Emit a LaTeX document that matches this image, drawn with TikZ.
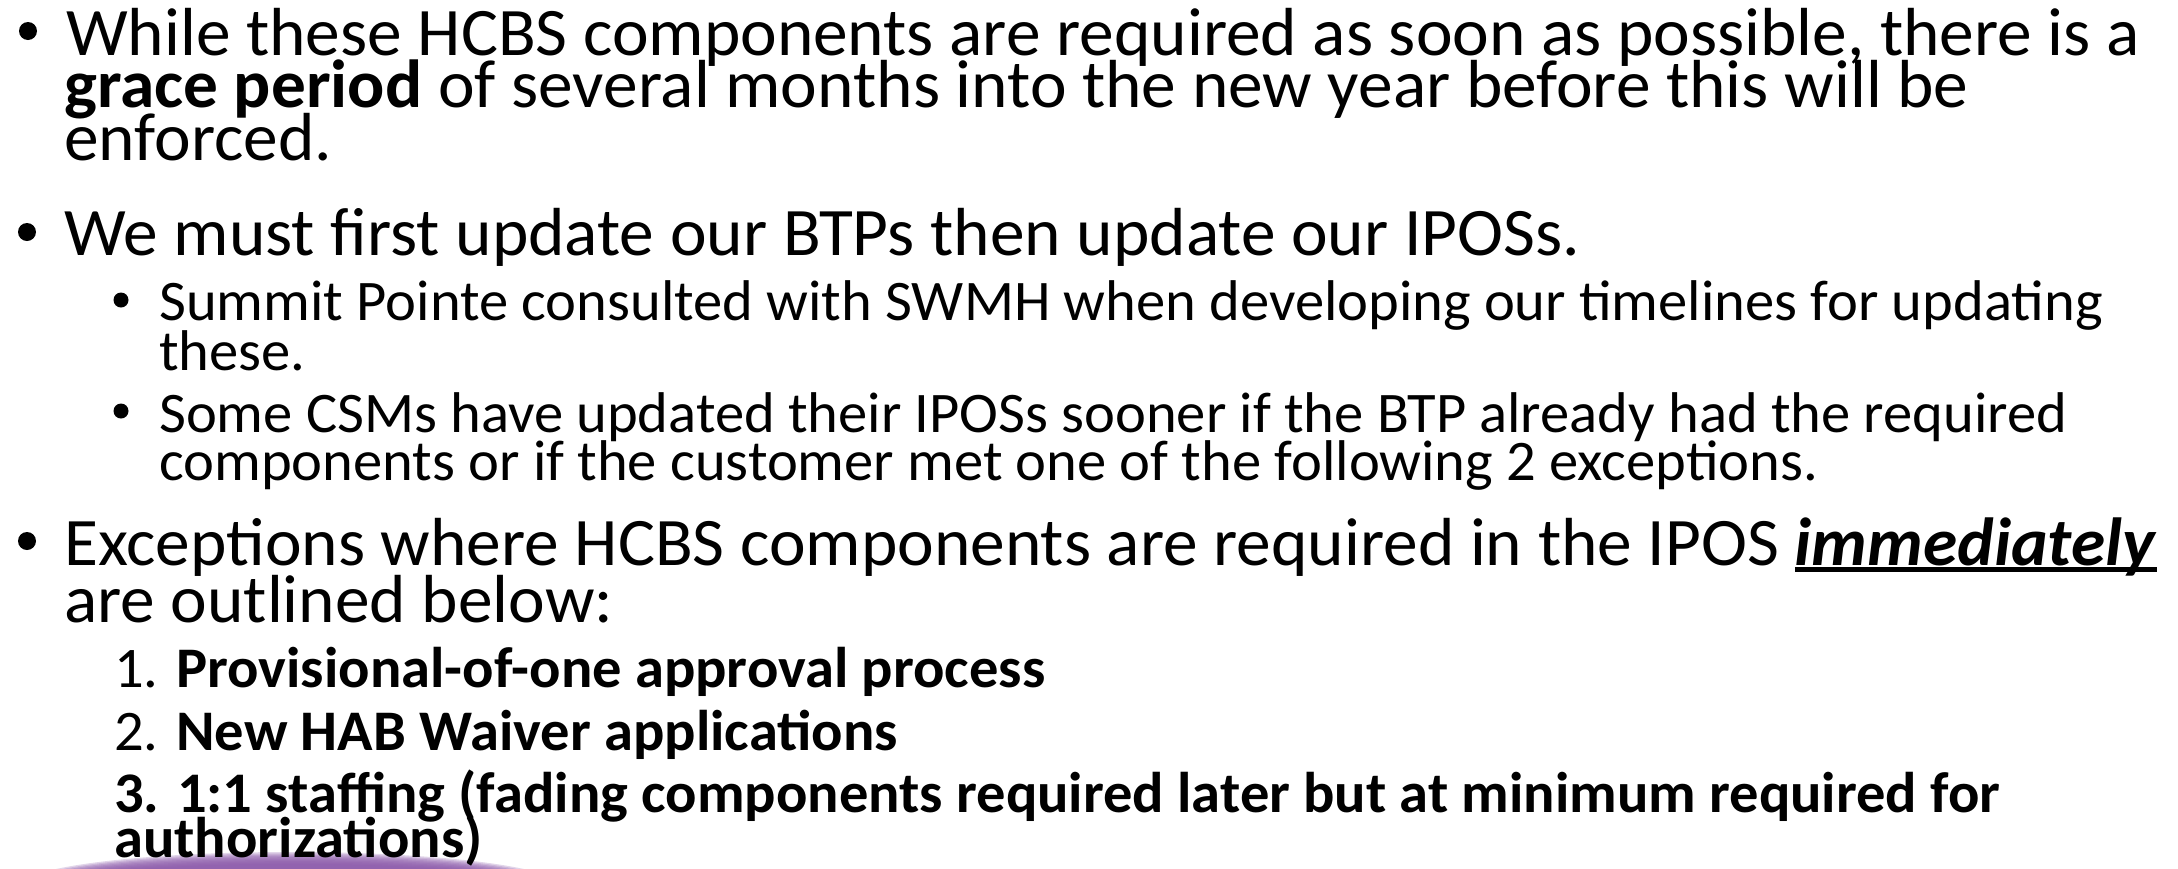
\documentclass[tikz,border=0pt]{standalone}
\usepackage{fontspec}
\setmainfont{Carlito}[FakeStretch=1.02]
\usetikzlibrary{positioning}

\definecolor{roxo}{RGB}{140,90,170}
\newcommand\sublinha[1]{\vtop{\hbox{#1}\kern-9pt\hrule height 5pt}}

\tikzset{
  nivelum/.style={anchor=base west, inner sep=0pt, font=\fontsize{68}{68}\selectfont},
  niveldois/.style={anchor=base west, inner sep=0pt, font=\fontsize{57.4}{57}\selectfont},
}

\begin{document}
\begin{tikzpicture}[x=1pt, y=-1pt]
    \useasboundingbox (0,0) rectangle (2178,868);

    % mancha roxa no canto de baixo
    \begin{scope}
        \clip (0,0) rectangle (2178,868);
        \foreach \r in {0,...,9}
            \fill[roxo, opacity=0.25] (290,886) ellipse ({270-4*\r} and {34-1.3*\r});
    \end{scope}

    % marcadores
    \fill (28,31) circle (9);
    \fill (27,232) circle (9);
    \fill (27,541) circle (9);
    \fill (121,300) circle (7.5);
    \fill (121,411) circle (7.5);

    % primeiro topico
    \node[nivelum] (t1a) at (66,55) {While these HCBS components are required as soon as possible, there is a};
    \node[nivelum] (t1b) at (64,107) {\textbf{grace period} of several months into the new year before this will be};
    \node[nivelum] (t1c) at (64,160) {enforced.};

    % segundo topico e subtopicos
    \node[nivelum] (t2) at (64,255) {We must first update our BTPs then update our IPOSs.};
    \node[niveldois] (s1a) at (159,320) {Summit Pointe consulted with SWMH when developing our timelines for updating};
    \node[niveldois] (s1b) at (159,370) {these.};
    \node[niveldois] (s2a) at (159,432) {Some CSMs have updated their IPOSs sooner if the BTP already had the required};
    \node[niveldois] (s2b) at (159,480) {components or if the customer met one of the following 2 exceptions.};

    % excecoes
    \node[nivelum] (t3a) at (64,565) {Exceptions where HCBS components are required in the IPOS \sublinha{\textbf{\textit{immediately}}}};
    \node[nivelum] (t3b) at (64,622) {are outlined below:};
    \node[niveldois] (e1) at (114,687) {1. \textbf{Provisional-of-one approval process}};
    \node[niveldois] (e2) at (114,750) {2. \textbf{New HAB Waiver applications}};
    \node[niveldois] (e3a) at (114,812) {\textbf{3. 1:1 staffing (fading components required later but at minimum required for}};
    \node[niveldois] (e3b) at (114,857) {\textbf{authorizations)}};

\end{tikzpicture}
\end{document}
